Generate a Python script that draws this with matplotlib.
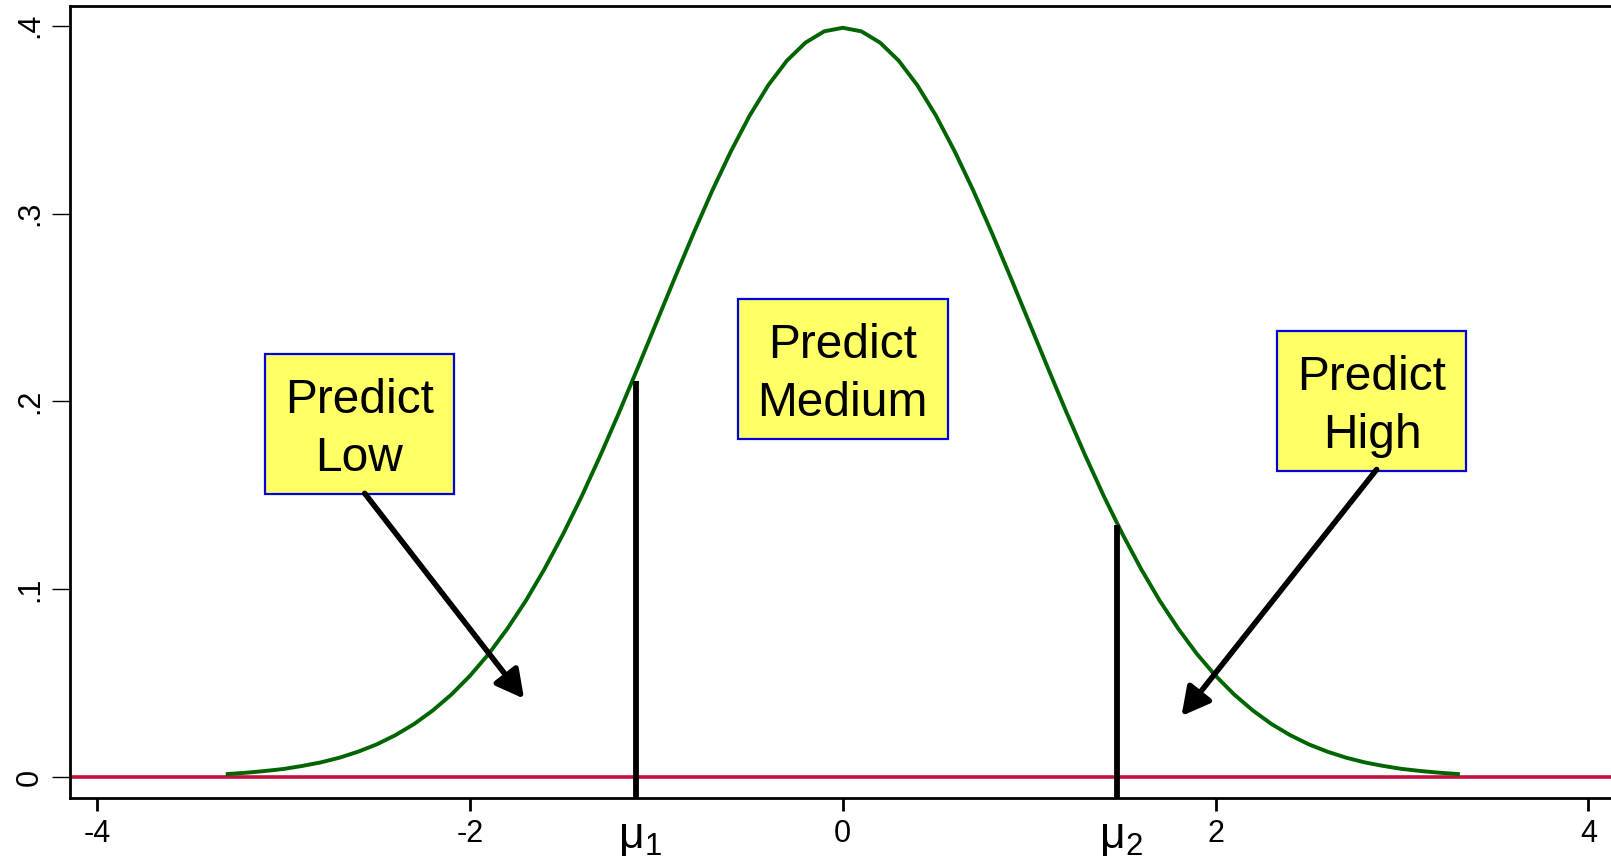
import matplotlib.pyplot as plt
from matplotlib.patches import FancyArrowPatch, Rectangle

plt.rcParams['font.family'] = ['Liberation Sans', 'DejaVu Sans']
plt.rcParams['axes.unicode_minus'] = False
plt.rcParams['mathtext.default'] = 'regular'

# density curve sampled every 0.1
x_vals = [-3.3, -3.2, -3.1, -3.0, -2.9, -2.8, -2.7, -2.6, -2.5, -2.4, -2.3,
          -2.2, -2.1, -2.0, -1.9, -1.8, -1.7, -1.6, -1.5, -1.4, -1.3, -1.2,
          -1.1, -1.0, -0.9, -0.8, -0.7, -0.6, -0.5, -0.4, -0.3, -0.2, -0.1,
          0.0, 0.1, 0.2, 0.3, 0.4, 0.5, 0.6, 0.7, 0.8, 0.9, 1.0, 1.1, 1.2,
          1.3, 1.4, 1.5, 1.6, 1.7, 1.8, 1.9, 2.0, 2.1, 2.2, 2.3, 2.4, 2.5,
          2.6, 2.7, 2.8, 2.9, 3.0, 3.1, 3.2, 3.3]
density = [0.0017, 0.0024, 0.0033, 0.0044, 0.0060, 0.0079, 0.0104, 0.0136,
           0.0175, 0.0224, 0.0283, 0.0355, 0.0440, 0.0540, 0.0656, 0.0790,
           0.0940, 0.1109, 0.1295, 0.1497, 0.1714, 0.1942, 0.2179, 0.2420,
           0.2661, 0.2897, 0.3123, 0.3332, 0.3521, 0.3683, 0.3814, 0.3910,
           0.3970, 0.3989, 0.3970, 0.3910, 0.3814, 0.3683, 0.3521, 0.3332,
           0.3123, 0.2897, 0.2661, 0.2420, 0.2179, 0.1942, 0.1714, 0.1497,
           0.1295, 0.1109, 0.0940, 0.0790, 0.0656, 0.0540, 0.0440, 0.0355,
           0.0283, 0.0224, 0.0175, 0.0136, 0.0104, 0.0079, 0.0060, 0.0044,
           0.0033, 0.0024, 0.0017]

# cut points
mu_x = [-1.11, 1.47]
mu_top = [0.211, 0.134]
mu_labels = [r'$\mu_1$', r'$\mu_2$']

xticks = [-4, -2, 0, 2, 4]
xtick_labels = ['-4', '-2', '0', '2', '4']
yticks = [0, 0.1, 0.2, 0.3, 0.4]
ytick_labels = ['0', '.1', '.2', '.3', '.4']

box_texts = ['Predict\nLow', 'Predict\nMedium', 'Predict\nHigh']
box_x = [-2.593, 0.0, 2.839]
box_y = [0.1850, 0.2143, 0.1975]

# arrows: (start, tip) for low and high boxes
arrow_from = [(-2.565, 0.1511), (2.864, 0.1638)]
arrow_to = [(-1.710, 0.0418), (1.817, 0.0326)]

fig = plt.figure(figsize=(16.11, 8.57), dpi=100)
ax = fig.add_axes([0.04345, 0.0692, 0.9594, 0.9238])

ax.axhline(0, color='#C8103C', lw=2.6, zorder=2)
ax.plot(x_vals, density, color='#006400', lw=2.8, zorder=3)
ax.vlines(mu_x, -0.0109, mu_top, color='black', lw=4.2, zorder=4)

for mx, lab in zip(mu_x, mu_labels):
    ax.annotate(lab, xy=(mx, 0), xycoords=('data', 'axes fraction'),
                xytext=(3, -14), textcoords='offset points',
                ha='center', va='top', fontsize=32)

ax.set_xlim(-4.146, 4.146)
ax.set_ylim(-0.0109, 0.4105)

# text labels, then yellow frames sized around the rendered text
labels = []
for tx, ty, t in zip(box_x, box_y, box_texts):
    labels.append(ax.text(tx, ty, t, ha='center', va='center', fontsize=34.5,
                          linespacing=1.38, zorder=6))
renderer = fig.canvas.get_renderer()
pad_x, pad_top, pad_bot = 20, 24, 13
for txt in labels:
    bb = txt.get_window_extent(renderer)
    ax.add_patch(Rectangle((bb.x0 - pad_x, bb.y0 - pad_bot),
                           bb.width + 2 * pad_x, bb.height + pad_top + pad_bot,
                           transform=None, fc='#FFFF66', ec='#0000DC',
                           lw=1.6, zorder=5))

for p0, p1 in zip(arrow_from, arrow_to):
    ax.add_patch(FancyArrowPatch(p0, p1, arrowstyle='-|>,head_length=0.6,head_width=0.32',
                                 mutation_scale=28, lw=4.0, color='black',
                                 shrinkA=0, shrinkB=0, zorder=7))

ax.set_xticks(xticks)
ax.set_xticklabels(xtick_labels)
ax.set_yticks(yticks)
ax.set_yticklabels(ytick_labels, rotation=90, va='center')

ax.spines['right'].set_visible(False)
for s in ['left', 'top', 'bottom']:
    ax.spines[s].set_linewidth(2.0)
ax.tick_params(axis='x', length=9, width=2.0, pad=6, labelsize=22)
ax.tick_params(axis='y', length=13, width=1.0, pad=5, labelsize=22)

fig.savefig('out.png', dpi=100)
